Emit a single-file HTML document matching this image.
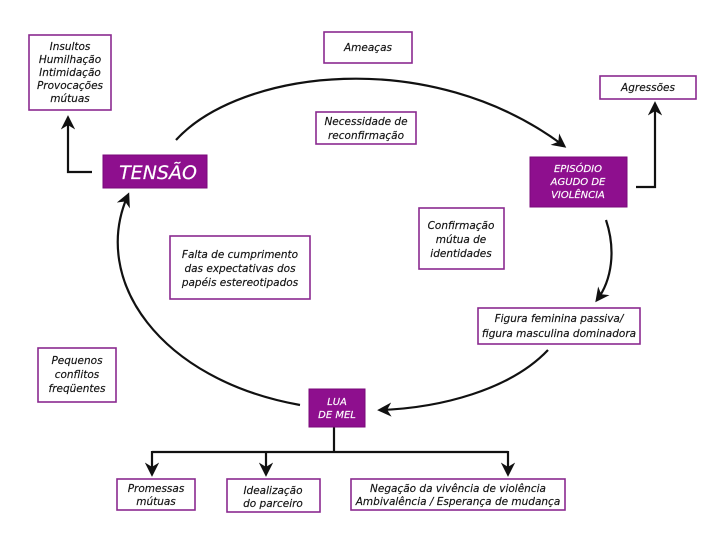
<!DOCTYPE html>
<html><head><meta charset="utf-8"><style>
html,body{margin:0;padding:0;background:#fff}
svg{display:block}
text{font-family:"DejaVu Sans","Liberation Sans",sans-serif;font-style:italic;font-size:10.5px;fill:#111;text-anchor:middle;stroke:#111;stroke-width:0.15}
.w{fill:#fff;stroke:#fff}
.b{fill:#fff;stroke:#8a2a8f;stroke-width:1.6}
.p{fill:#8e0f8e;stroke:#7a0a7a;stroke-width:1}
.l{fill:none;stroke:#111;stroke-width:2.2}
</style></head><body>
<svg width="720" height="540" viewBox="0 0 720 540" xmlns="http://www.w3.org/2000/svg">
<defs><marker id="a" viewBox="0 0 10 10" refX="8" refY="5" markerWidth="6.5" markerHeight="6.5" orient="auto-start-reverse"><path d="M0,0 L10,5 L0,10 L3,5 Z" fill="#111"/></marker></defs>

<path class="l" d="M176,140 C240,70 430,45 564,146" marker-end="url(#a)"/>
<path class="l" d="M606,220 C616,250 612,280 597,300" marker-end="url(#a)"/>
<path class="l" d="M548,350 C510,390 440,408 380,410" marker-end="url(#a)"/>
<path class="l" d="M300,405 C160,380 90,280 128,195" marker-end="url(#a)"/>

<path class="l" d="M92,172 H68 V118" marker-end="url(#a)"/>
<path class="l" d="M636,187 H655 V104" marker-end="url(#a)"/>
<path class="l" d="M334,427 V452 M152,452 H508"/>
<path class="l" d="M152,451 V474" marker-end="url(#a)"/>
<path class="l" d="M266,451 V474" marker-end="url(#a)"/>
<path class="l" d="M508,451 V474" marker-end="url(#a)"/>

<rect class="b" x="29" y="35" width="82" height="75"/>
<text x="70" y="50">Insultos</text><text x="70" y="63">Humilhação</text><text x="70" y="76">Intimidação</text><text x="70" y="89">Provocações</text><text x="70" y="102">mútuas</text>

<rect class="b" x="324" y="32" width="88" height="31"/>
<text x="368" y="51">Ameaças</text>

<rect class="b" x="316" y="112" width="100" height="32"/>
<text x="366" y="125">Necessidade de</text><text x="366" y="139">reconfirmação</text>

<rect class="p" x="103" y="155" width="104" height="33"/>
<text class="w" x="158" y="179" style="font-size:19px">TENSÃO</text>

<rect class="b" x="600" y="76" width="96" height="23"/>
<text x="648" y="91">Agressões</text>

<rect class="p" x="530" y="157" width="97" height="50"/>
<text class="w" x="578" y="172" style="font-size:10px">EPISÓDIO</text><text class="w" x="578" y="185" style="font-size:10px">AGUDO DE</text><text class="w" x="578" y="198" style="font-size:10px">VIOLÊNCIA</text>

<rect class="b" x="419" y="208" width="85" height="61"/>
<text x="461" y="229">Confirmação</text><text x="461" y="243">mútua de</text><text x="461" y="257">identidades</text>

<rect class="b" x="170" y="236" width="140" height="63"/>
<text x="240" y="258">Falta de cumprimento</text><text x="240" y="272">das expectativas dos</text><text x="240" y="286">papéis estereotipados</text>

<rect class="b" x="478" y="308" width="162" height="36"/>
<text x="559" y="322">Figura feminina passiva/</text><text x="559" y="337">figura masculina dominadora</text>

<rect class="b" x="38" y="348" width="78" height="54"/>
<text x="77" y="364">Pequenos</text><text x="77" y="378">conflitos</text><text x="77" y="392">freqüentes</text>

<rect class="p" x="309" y="389" width="56" height="38"/>
<text class="w" x="337" y="405" style="font-size:10px">LUA</text><text class="w" x="337" y="418" style="font-size:10px">DE MEL</text>

<rect class="b" x="117" y="479" width="78" height="31"/>
<text x="156" y="492">Promessas</text><text x="156" y="505">mútuas</text>

<rect class="b" x="227" y="479" width="93" height="33"/>
<text x="273" y="494">Idealização</text><text x="273" y="507">do parceiro</text>

<rect class="b" x="351" y="479" width="214" height="31"/>
<text x="458" y="492">Negação da vivência de violência</text><text x="458" y="505">Ambivalência / Esperança de mudança</text>
</svg>
</body></html>
